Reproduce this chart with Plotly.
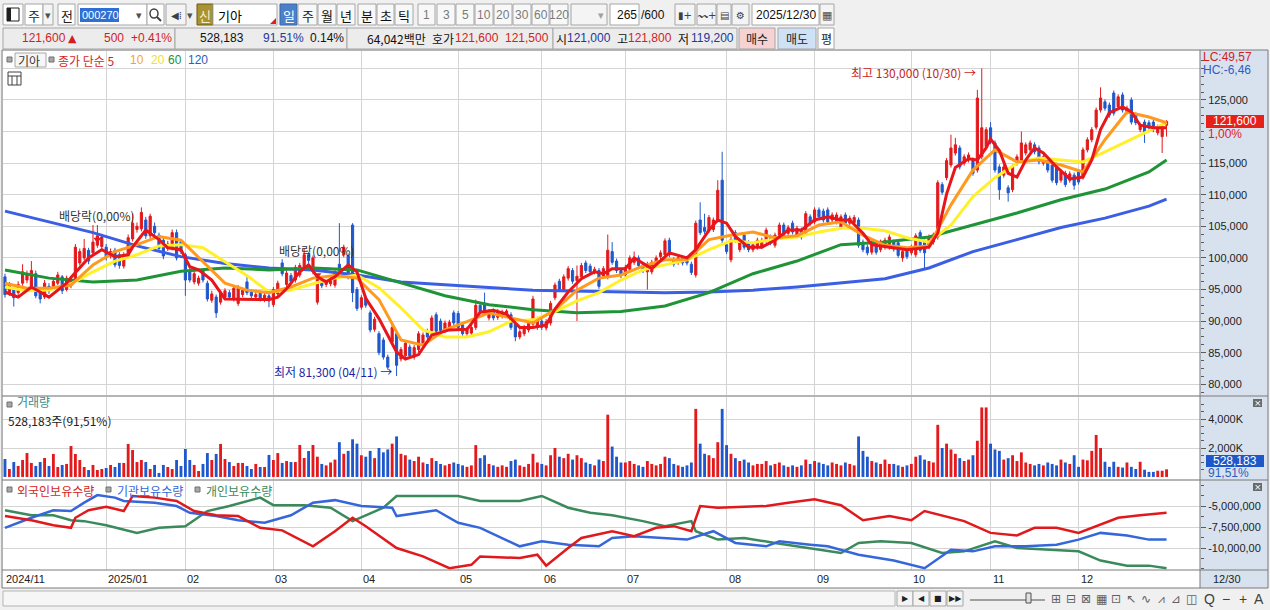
import plotly.graph_objects as go

# Kia (000270) daily chart, 265 bars: bar 0 = 2024-11-27 ... bar 264 = 2025-12-30
# prices in thousand won
open_k = [
    97.0, 94.5, 95.0, 94.5, 96.0, 96.5, 95.5, 97.5, 95.0, 93.8,
    95.5, 95.3, 96.0, 97.0, 95.0, 95.6, 96.5, 99.2, 100.0, 101.2,
    100.8, 102.0, 101.8, 101.7, 100.3, 101.2, 100.5, 98.7, 100.3, 103.0,
    104.5, 104.6, 106.0, 103.5, 105.0, 103.6, 102.8, 101.5, 101.5, 104.0,
    102.5, 100.5, 98.0, 96.2, 96.0, 98.0, 96.0, 93.3, 93.8, 93.0,
    93.8, 94.5, 93.5, 92.8, 94.2, 96.2, 94.6, 93.8, 94.4, 93.4,
    94.0, 92.6, 94.3, 99.2, 95.8, 97.2, 96.5, 97.3, 98.5, 100.5,
    97.8, 93.0, 96.2, 95.8, 95.9, 95.7, 99.0, 100.5, 100.3, 105.2,
    95.0, 92.2, 93.7, 91.3, 88.7, 88.0, 87.0, 84.3, 86.7, 88.0,
    84.0, 84.5, 85.9, 84.3, 85.5, 86.5, 88.4, 88.5, 91.0, 90.0,
    88.5, 88.8, 91.3, 91.2, 89.4, 88.0, 88.1, 89.0, 92.5, 92.8,
    90.5, 91.6, 90.6, 90.8, 90.9, 91.0, 89.6, 87.5, 88.0, 88.6,
    89.5, 89.0, 90.0, 88.9, 89.7, 93.7, 96.3, 95.0, 96.8, 98.0,
    96.4, 97.0, 99.2, 98.7, 97.8, 98.0, 97.1, 97.0, 101.0, 99.5,
    98.0, 97.3, 98.2, 99.3, 100.0, 98.9, 97.8, 97.8, 99.3, 100.2,
    100.5, 102.8, 99.7, 99.3, 100.0, 99.7, 99.0, 97.3, 106.0, 104.8,
    104.4, 104.5, 106.0, 112.3, 102.1, 99.7, 104.0, 101.3, 103.6, 102.4,
    101.3, 101.7, 101.8, 102.8, 103.3, 102.0, 103.6, 105.2, 103.9, 105.5,
    103.6, 104.4, 104.0, 106.5, 105.7, 107.6, 107.4, 107.6, 106.0, 105.7,
    104.9, 106.8, 105.5, 105.6, 106.0, 102.5, 101.7, 100.9, 102.3, 101.3,
    101.7, 101.7, 102.5, 102.4, 100.0, 101.2, 100.8, 100.5, 104.0, 102.5,
    101.8, 102.5, 103.3, 111.6, 112.7, 114.7, 116.6, 117.4, 115.0, 115.5,
    115.5, 113.9, 116.0, 117.6, 120.6, 118.2, 114.4, 113.1, 111.1, 110.8,
    115.0, 115.5, 116.6, 117.1, 117.9, 117.4, 115.0, 115.5, 114.7, 114.4,
    112.3, 113.4, 112.3, 113.1, 113.6, 112.8, 117.1, 118.7, 120.7, 123.4,
    124.7, 124.2, 126.1, 123.9, 125.8, 123.1, 125.0, 122.6, 120.3, 121.5,
    121.4, 121.5, 119.8, 119.2, 121.0,
]
high_k = [
    97.5, 96.2, 95.4, 96.3, 99.0, 98.0, 99.5, 98.0, 95.3, 96.5,
    96.0, 96.8, 97.8, 97.3, 97.2, 96.8, 102.2, 101.5, 103.0, 101.6,
    105.2, 105.2, 103.8, 102.2, 101.5, 101.6, 100.9, 100.9, 103.7, 107.0,
    105.6, 108.0, 106.5, 107.0, 105.6, 104.0, 103.2, 102.7, 104.5, 104.5,
    103.0, 100.8, 98.4, 98.0, 97.2, 98.4, 96.4, 94.8, 94.2, 94.9,
    95.2, 94.9, 95.6, 95.7, 95.3, 97.0, 95.0, 94.6, 94.8, 94.5,
    94.3, 95.4, 96.4, 99.8, 98.0, 97.6, 98.9, 99.2, 101.5, 100.9,
    100.4, 97.0, 96.6, 96.7, 97.1, 98.1, 105.5, 102.1, 100.7, 105.5,
    95.4, 94.1, 94.1, 91.7, 90.7, 88.4, 87.4, 84.7, 89.4, 88.4,
    85.9, 86.9, 86.3, 86.2, 88.4, 88.2, 88.8, 90.9, 91.4, 90.4,
    90.1, 90.2, 91.7, 91.6, 89.8, 89.1, 89.4, 93.4, 92.9, 94.5,
    91.9, 92.0, 91.9, 91.8, 91.9, 91.4, 90.0, 88.7, 89.4, 90.0,
    94.0, 90.7, 90.4, 90.3, 93.2, 96.1, 96.7, 97.4, 98.7, 98.4,
    98.8, 99.2, 99.6, 99.1, 98.6, 98.4, 98.7, 103.7, 102.5, 99.9,
    98.4, 98.9, 100.4, 101.0, 100.4, 99.3, 99.4, 99.7, 100.4, 101.2,
    103.1, 103.2, 100.1, 100.4, 100.4, 100.1, 99.4, 105.9, 108.8, 107.0,
    106.8, 106.4, 112.3, 116.8, 102.5, 103.3, 104.4, 102.8, 104.0, 102.8,
    102.5, 103.2, 103.2, 104.8, 103.7, 104.0, 105.6, 105.6, 105.2, 105.9,
    105.1, 104.8, 107.4, 106.9, 108.0, 108.0, 107.8, 108.0, 107.2, 107.2,
    106.9, 107.2, 106.7, 106.8, 106.4, 102.9, 102.1, 102.8, 102.7, 102.9,
    103.2, 103.7, 102.9, 102.8, 101.4, 101.6, 102.1, 103.9, 104.4, 102.9,
    103.7, 104.0, 112.3, 112.0, 115.8, 119.5, 119.0, 117.8, 116.4, 116.7,
    115.9, 126.6, 130.0, 120.7, 121.5, 118.6, 114.8, 114.8, 111.5, 114.8,
    116.4, 120.0, 118.3, 118.6, 118.3, 117.8, 116.4, 115.9, 115.1, 114.8,
    114.0, 113.8, 113.7, 113.5, 114.0, 117.5, 119.1, 120.7, 123.8, 127.0,
    125.1, 124.6, 126.5, 125.9, 126.2, 124.1, 125.4, 123.0, 121.4, 121.9,
    121.8, 121.9, 121.1, 121.1, 121.8,
]
low_k = [
    93.7, 94.0, 92.3, 94.0, 95.6, 96.0, 95.2, 93.6, 92.8, 93.5,
    94.3, 95.0, 95.7, 94.3, 94.7, 95.2, 96.2, 98.8, 99.6, 99.0,
    100.5, 101.6, 101.4, 99.6, 99.9, 98.5, 98.3, 98.3, 100.0, 102.6,
    104.0, 104.2, 103.0, 103.1, 103.6, 101.0, 99.8, 101.1, 101.2, 99.6,
    100.6, 94.0, 96.1, 95.8, 95.6, 96.1, 93.1, 92.9, 90.5, 92.6,
    93.4, 93.4, 93.1, 92.4, 93.8, 94.1, 93.6, 93.4, 93.1, 93.0,
    92.2, 92.2, 93.9, 97.1, 95.4, 95.9, 96.1, 96.9, 98.1, 99.2,
    97.4, 92.6, 95.2, 95.4, 95.5, 95.3, 97.5, 100.1, 96.6, 93.0,
    91.6, 91.8, 92.1, 88.2, 88.3, 84.6, 83.9, 82.3, 86.3, 81.3,
    83.6, 84.1, 84.1, 83.9, 85.1, 86.1, 87.1, 88.1, 88.0, 88.1,
    88.1, 88.4, 89.3, 88.6, 87.6, 87.6, 87.7, 88.6, 91.1, 91.0,
    90.1, 90.1, 90.2, 90.4, 90.5, 88.6, 86.8, 87.1, 87.6, 88.2,
    89.1, 88.6, 88.6, 88.5, 89.3, 93.3, 94.6, 94.6, 96.4, 95.9,
    90.0, 96.6, 97.6, 97.4, 97.4, 95.1, 96.7, 96.6, 98.9, 97.6,
    96.8, 96.9, 97.8, 98.9, 98.4, 97.6, 95.0, 97.4, 98.9, 99.8,
    100.1, 100.1, 98.6, 98.9, 98.8, 98.8, 97.3, 96.9, 103.6, 103.8,
    104.0, 104.1, 105.6, 102.0, 100.6, 99.3, 102.4, 100.9, 101.3, 100.9,
    100.9, 101.3, 101.4, 102.4, 102.0, 101.6, 103.2, 103.2, 103.5, 103.7,
    103.2, 102.9, 103.6, 105.1, 105.3, 106.1, 105.6, 105.3, 105.6, 105.3,
    104.5, 105.1, 105.1, 105.2, 101.6, 100.9, 100.4, 100.5, 100.5, 100.9,
    101.3, 101.3, 101.0, 100.0, 99.4, 99.8, 100.4, 100.1, 100.8, 98.4,
    101.4, 102.1, 102.9, 110.0, 112.3, 114.3, 116.2, 114.0, 114.6, 115.1,
    113.0, 113.5, 115.6, 117.2, 118.0, 113.5, 109.2, 112.7, 108.9, 110.4,
    114.6, 115.1, 116.2, 116.7, 116.4, 114.8, 114.6, 113.5, 111.9, 111.5,
    111.9, 111.2, 111.9, 110.8, 111.6, 112.4, 116.7, 118.3, 120.3, 123.0,
    123.3, 122.2, 122.5, 123.5, 123.0, 122.7, 121.1, 121.0, 119.9, 118.2,
    120.2, 119.9, 119.4, 116.6, 119.2,
]
close_k = [
    94.2, 95.7, 93.7, 95.8, 97.8, 97.5, 98.0, 94.0, 93.5, 96.0,
    94.8, 96.3, 97.3, 94.8, 96.8, 96.3, 101.7, 101.0, 101.5, 99.5,
    102.5, 103.5, 103.3, 100.0, 101.0, 98.9, 98.8, 100.5, 103.2, 105.5,
    105.0, 107.2, 103.5, 106.6, 104.0, 101.5, 100.3, 102.2, 104.0, 100.0,
    101.0, 96.5, 96.5, 97.5, 96.8, 96.5, 93.5, 94.3, 91.3, 94.5,
    94.8, 93.8, 95.2, 95.3, 94.9, 94.5, 94.0, 94.2, 93.5, 94.1,
    93.2, 95.0, 96.0, 97.5, 97.6, 96.3, 98.5, 98.8, 100.5, 99.6,
    100.0, 96.6, 95.6, 96.3, 96.7, 97.7, 98.0, 101.7, 97.0, 94.5,
    92.0, 93.7, 92.5, 88.6, 90.3, 85.0, 84.3, 82.7, 89.0, 83.0,
    85.5, 86.5, 84.5, 85.8, 88.0, 87.8, 87.5, 90.5, 88.4, 88.5,
    89.7, 89.8, 89.7, 89.0, 88.0, 88.7, 89.0, 92.5, 91.5, 91.4,
    91.5, 90.5, 91.5, 91.4, 91.6, 89.0, 87.5, 88.3, 89.0, 89.6,
    93.5, 90.3, 89.0, 89.9, 92.8, 95.7, 95.0, 97.0, 98.3, 96.3,
    97.1, 98.8, 98.0, 97.8, 98.2, 95.5, 98.3, 101.2, 99.3, 98.0,
    97.2, 98.5, 100.0, 99.8, 98.8, 98.0, 99.0, 99.3, 100.0, 100.8,
    102.7, 100.5, 99.0, 100.0, 99.2, 99.2, 97.7, 105.5, 104.0, 104.2,
    106.4, 106.0, 110.7, 102.8, 101.0, 102.9, 102.8, 102.4, 101.7, 101.3,
    102.1, 102.8, 102.8, 104.4, 102.4, 103.6, 105.2, 103.6, 104.8, 104.1,
    104.7, 103.3, 107.0, 105.5, 107.6, 106.5, 106.0, 105.7, 106.8, 106.8,
    106.5, 105.5, 106.3, 106.4, 102.0, 101.3, 100.8, 102.4, 100.9, 102.5,
    102.8, 103.3, 101.4, 100.4, 101.0, 100.2, 101.7, 103.5, 101.2, 100.8,
    103.3, 103.6, 111.9, 110.4, 115.4, 117.4, 117.9, 114.4, 116.0, 116.3,
    113.4, 125.3, 120.6, 120.3, 118.4, 113.9, 110.8, 114.4, 110.3, 114.4,
    116.0, 118.2, 117.9, 118.2, 116.8, 115.2, 116.0, 113.9, 112.3, 111.9,
    113.6, 111.6, 113.3, 111.5, 112.0, 117.1, 118.7, 120.3, 123.4, 125.3,
    123.7, 122.6, 122.9, 125.5, 123.4, 123.7, 121.5, 121.4, 121.0, 119.8,
    120.6, 120.3, 120.7, 120.7, 121.6,
]
# volume in thousand shares
volume_k = [
    1240, 550, 1030, 760, 1170, 1650, 970, 760, 1030, 1310,
    760, 1590, 690, 830, 900, 2140, 1590, 1170, 690, 480,
    830, 480, 550, 620, 830, 690, 970, 970, 2280, 1860,
    1030, 1170, 1030, 550, 830, 280, 830, 690, 550, 1170,
    760, 1930, 1170, 830, 410, 900, 1650, 1170, 1590, 2280,
    1240, 1030, 760, 970, 970, 760, 550, 900, 690, 690,
    1520, 1170, 1650, 970, 1100, 1030, 1030, 2210, 1310, 1790,
    2210, 1400, 900, 800, 1000, 1200, 2400, 1600, 1800, 2600,
    2300, 1500, 1400, 1800, 1300, 2000, 1700, 1900, 2300, 2800,
    1600, 1500, 1200, 1100, 1400, 1000, 900, 1300, 1100, 900,
    800, 900, 1000, 900, 800, 700, 800, 2200, 1300, 1500,
    900, 800, 700, 800, 700, 1100, 1200, 800, 700, 900,
    1600, 1000, 900, 800, 1500, 2000, 1400, 1300, 1600, 1200,
    1500, 1300, 1000, 900, 800, 1200, 1100, 4300, 2100, 1400,
    1000, 1000, 1100, 900, 800, 700, 1100, 900, 800, 900,
    1400, 1300, 900, 800, 700, 800, 1000, 4700, 2300, 1600,
    1500, 1300, 2400, 4700, 2200, 1600, 1300, 1100, 1200, 1000,
    800, 900, 900, 1100, 800, 900, 1000, 800, 700, 800,
    700, 800, 1200, 900, 1100, 1000, 900, 800, 1000, 900,
    800, 1000, 900, 800, 2800, 1800, 1400, 1100, 1000, 900,
    1200, 900, 900, 800, 700, 800, 900, 1400, 1500, 1200,
    1100, 1000, 3600, 2000, 2300, 1900, 1600, 1300, 1100, 1200,
    1500, 2500, 4800, 4800, 2300, 1900, 1800, 1200, 1300, 1500,
    1100, 1700, 1000, 900, 800, 900, 800, 1000, 900, 800,
    1200, 1000, 900, 1500, 700, 1200, 1150, 1800, 2900, 2000,
    1050, 700, 1050, 700, 650, 1000, 700, 550, 1050, 500,
    350, 350, 430, 430, 528,
]

# moving averages (bar index, thousand won)
ma_long_idx = [0, 10, 20, 30, 40, 50, 60, 70, 80, 90, 100, 110, 120, 130,
               140, 150, 160, 170, 180, 190, 200, 210, 220, 230, 240, 250, 260, 264]
ma120_val = [107.4, 105.7, 104.0, 101.9, 100.2, 99.1, 98.4, 98.1, 97.3, 96.2,
             95.7, 95.3, 94.9, 94.8, 94.6, 94.5, 94.6, 94.9, 95.4, 96.0,
             96.7, 98.4, 101.0, 102.9, 104.8, 106.3, 108.2, 109.3]
ma60_val = [98.1, 96.8, 96.2, 96.5, 97.9, 98.4, 98.1, 98.4, 98.1, 96.0,
            94.0, 92.6, 91.8, 91.3, 91.5, 92.4, 94.5, 97.5, 99.5, 102.1,
            102.5, 103.3, 105.2, 107.1, 109.2, 110.9, 113.6, 115.5]
ma_mid_idx = list(range(0, 261, 5)) + [264]
ma20_val = [95.4, 94.8, 94.9, 95.9, 97.8, 99.5, 100.5, 101.9, 102.1, 101.6,
            99.4, 97.2, 94.6, 94.9, 95.9, 96.8, 97.3, 95.3, 92.1, 88.6,
            87.5, 87.5, 88.3, 90.0, 90.2, 91.5, 93.2, 94.5, 96.5, 98.1,
            98.9, 99.7, 101.3, 102.7, 102.4, 103.0, 103.3, 104.1, 104.7, 104.7,
            104.3, 103.2, 102.5, 105.2, 109.7, 112.7, 115.0, 115.8, 115.5, 115.2,
            116.8, 118.5, 120.1, 121.4]
ma10_val = [96.0, 95.2, 95.2, 95.7, 98.9, 101.0, 102.1, 103.4, 102.8, 99.4,
            96.0, 94.9, 94.5, 95.4, 96.8, 97.2, 96.8, 93.4, 87.0, 86.2,
            88.6, 89.9, 91.3, 90.5, 89.7, 91.8, 94.9, 96.8, 97.3, 98.7,
            99.7, 99.7, 102.9, 103.6, 104.1, 103.2, 103.5, 105.2, 105.7, 103.6,
            102.0, 101.6, 101.9, 108.4, 113.9, 117.1, 115.2, 115.5, 114.7, 113.6,
            118.7, 123.1, 122.3, 121.4]
ma5_idx = [0, 3, 6, 10, 14, 15, 19, 22, 25, 28, 29, 32, 35, 37, 40, 42, 44, 47, 50,
           54, 60, 62, 64, 67, 69, 71, 73, 75, 78, 80, 82, 85, 87, 89, 91, 94, 97,
           101, 105, 108, 111, 114, 117, 120, 123, 125, 128, 131, 134, 136, 138,
           141, 143, 147, 151, 155, 157, 160, 162, 164, 166, 169, 172, 175, 178,
           181, 184, 187, 190, 192, 195, 197, 201, 205, 210, 212, 214, 216, 219,
           221, 223, 224, 226, 228, 230, 232, 234, 236, 239, 242, 245, 247, 249,
           251, 254, 256, 258, 261, 264]
ma5_val = [94.6, 93.8, 95.4, 93.8, 96.0, 96.9, 100.0, 101.3, 100.2, 100.5, 101.7,
           104.4, 102.9, 101.6, 101.3, 98.6, 98.1, 96.5, 93.5, 93.5, 93.4, 93.8,
           95.1, 97.8, 98.9, 97.0, 96.2, 97.0, 98.9, 97.8, 93.6, 90.4, 87.8, 85.1,
           84.0, 84.7, 87.8, 88.6, 88.7, 91.4, 91.7, 91.1, 89.0, 89.0, 89.4, 91.9,
           94.6, 96.7, 97.8, 97.5, 98.3, 98.3, 100.0, 98.3, 100.8, 100.0, 101.3,
           104.4, 106.0, 105.5, 103.4, 101.7, 101.7, 102.8, 104.4, 104.4, 106.0,
           106.5, 106.0, 106.0, 103.9, 102.1, 101.7, 101.3, 101.7, 103.9, 110.1,
           114.3, 115.7, 115.5, 117.4, 118.8, 117.0, 113.4, 112.8, 115.5, 117.4,
           116.6, 114.4, 112.5, 112.8, 115.5, 120.3, 123.0, 123.9, 123.1, 121.0,
           120.6, 120.6]

# holdings (million shares)
forn_idx = [0, 6, 11, 15, 16, 19, 23, 27, 29, 34, 39, 43, 48, 53, 58, 63, 70, 75, 79,
            82, 89, 95, 101, 106, 108, 117, 121, 123, 128, 131, 138, 143, 148, 152,
            156, 158, 162, 173, 178, 184, 190, 195, 201, 206, 209, 215, 218, 224,
            230, 234, 239, 244, 248, 253, 258, 264]
forn_val = [-6.2, -6.7, -7.3, -7.6, -6.4, -5.5, -5.1, -5.6, -3.8, -4.0, -4.4, -5.6,
            -6.1, -6.2, -7.6, -7.9, -9.8, -8.0, -6.4, -7.4, -10.0, -11.0, -12.4,
            -12.0, -11.0, -11.2, -10.8, -12.1, -10.0, -8.8, -8.0, -8.6, -7.6, -7.4,
            -8.0, -5.0, -5.2, -5.0, -4.6, -4.2, -4.9, -6.7, -6.2, -6.7, -5.6, -6.4,
            -6.8, -8.2, -8.5, -7.6, -7.6, -8.2, -7.4, -6.4, -6.1, -5.8]
inst_idx = [0, 6, 11, 15, 18, 21, 25, 27, 34, 39, 42, 48, 53, 59, 65, 70, 75, 81, 88,
            89, 98, 103, 108, 117, 122, 128, 135, 138, 143, 150, 155, 161, 166, 173,
            176, 183, 187, 194, 202, 209, 215, 220, 225, 232, 239, 244, 249, 255,
            260, 264]
inst_val = [-7.6, -6.4, -5.5, -5.6, -4.6, -3.7, -4.0, -4.4, -4.6, -5.0, -5.8, -6.2,
            -6.7, -7.0, -6.1, -4.6, -4.3, -5.0, -5.2, -6.2, -5.5, -7.0, -7.6, -9.8,
            -9.2, -9.6, -9.8, -8.8, -8.6, -8.8, -9.0, -8.0, -9.4, -9.8, -9.2, -9.6,
            -9.8, -10.8, -11.5, -12.4, -10.2, -10.4, -9.8, -9.8, -9.6, -9.0, -8.2,
            -8.5, -9.0, -9.0]
indv_idx = [0, 6, 11, 15, 18, 23, 30, 35, 41, 46, 51, 58, 61, 68, 74, 79, 86, 89, 96,
            103, 108, 117, 122, 128, 133, 138, 145, 150, 156, 157, 162, 168, 175,
            183, 190, 194, 199, 206, 213, 218, 225, 230, 239, 244, 249, 255, 260, 264]
indv_val = [-5.5, -6.1, -6.1, -6.7, -6.8, -7.3, -8.2, -7.6, -7.4, -5.6, -5.0, -4.0,
            -4.9, -4.9, -5.2, -6.8, -5.2, -3.8, -3.8, -3.8, -4.4, -4.4, -3.8, -5.2,
            -5.8, -6.1, -6.8, -7.4, -6.8, -8.0, -9.0, -8.8, -9.4, -10.0, -10.6, -9.4,
            -9.2, -9.4, -10.6, -10.4, -9.2, -10.0, -10.2, -10.4, -11.5, -12.1,
            -12.1, -12.4]

# ex-dividend marks (bar index, thousand won)
exdiv_idx = [21, 71]
exdiv_val = [102.9, 97.3]

month_idx = [0, 23, 41, 61, 81, 103, 122, 141, 164, 184, 206, 224, 244]
month_lbl = ["2024/11", "2025/01", "02", "03", "04", "05", "06", "07", "08",
             "09", "10", "11", "12"]

n = len(close_k)
assert n == 265 and len(open_k) == len(high_k) == len(low_k) == len(volume_k) == n

W, H = 1270, 610
KF = "Noto Sans CJK KR"
NF = "Liberation Sans"
RED = "#E3191C"
BLUE = "#1F58CC"
GRID = "#D4D4D4"


def X(p):
    return p / W


def Y(p):
    return 1 - p / H


bars = list(range(n))
k = lambda a: [v * 1000 for v in a]

fig = go.Figure()

# 1st panel: candles + moving averages
fig.add_trace(go.Candlestick(
    x=bars, open=k(open_k), high=k(high_k), low=k(low_k), close=k(close_k),
    increasing=dict(line=dict(color=RED, width=1), fillcolor=RED),
    decreasing=dict(line=dict(color=BLUE, width=1), fillcolor=BLUE),
    whiskerwidth=0, showlegend=False, hoverinfo="skip", xaxis="x", yaxis="y"))

for xs, ys, col in [(ma_long_idx, ma120_val, "#3A5EE4"),
                    (ma_long_idx, ma60_val, "#1E9436"),
                    (ma_mid_idx, ma20_val, "#FFF02A"),
                    (ma_mid_idx, ma10_val, "#FF9A1E"),
                    (ma5_idx, ma5_val, "#E8161A")]:
    fig.add_trace(go.Scatter(x=xs, y=k(ys), mode="lines", line=dict(color=col, width=3),
                             showlegend=False, hoverinfo="skip", xaxis="x", yaxis="y"))

fig.add_trace(go.Scatter(x=exdiv_idx, y=k(exdiv_val), mode="markers",
                         marker=dict(symbol="triangle-down", size=7, color=RED),
                         showlegend=False, hoverinfo="skip", xaxis="x", yaxis="y"))

# 2nd panel: volume
vol_colors = [RED if c >= o else BLUE for o, c in zip(open_k, close_k)]
fig.add_trace(go.Bar(x=bars, y=volume_k, marker=dict(color=vol_colors, line=dict(width=0)),
                     showlegend=False, hoverinfo="skip", xaxis="x2", yaxis="y2"))

# 3rd panel: holdings
for xs, ys, col in [(indv_idx, indv_val, "#3A8A5C"),
                    (inst_idx, inst_val, "#3566DA"),
                    (forn_idx, forn_val, "#E0191C")]:
    fig.add_trace(go.Scatter(x=xs, y=[v * 1e6 for v in ys], mode="lines",
                             line=dict(color=col, width=2.5), showlegend=False,
                             hoverinfo="skip", xaxis="x3", yaxis="y3"))

xcommon = dict(range=[-0.45, 271.6], domain=[X(3), X(1200)], tickmode="array",
               tickvals=month_idx[1:], showticklabels=False, showgrid=True,
               gridcolor=GRID, gridwidth=1, zeroline=False, showline=False,
               ticks="", fixedrange=True, automargin=False)
ycommon = dict(side="right", showgrid=True, gridcolor=GRID, gridwidth=1, zeroline=False,
               showline=False, ticks="outside", ticklen=5, tickcolor="#5A5A5A",
               tickfont=dict(family=NF, size=11, color="#222222"), fixedrange=True,
               automargin=False, tickmode="array")

# labels at 120,000 and 130,000 are hidden behind the price box / LC-HC text
price_ticks = list(range(80000, 130001, 5000))
price_text = ["" if v in (120000, 130000) else f"{v:,}" for v in price_ticks]

fig.update_layout(
    template="none",
    width=W, height=H,
    margin=dict(l=0, r=0, t=0, b=0),
    paper_bgcolor="#F0F0F0", plot_bgcolor="#FFFFFF",
    font=dict(family=KF, size=12, color="#222222"),
    showlegend=False, bargap=0.35,
    xaxis=dict(xcommon, anchor="y", rangeslider=dict(visible=False)),
    xaxis2=dict(xcommon, anchor="y2"),
    xaxis3=dict(xcommon, anchor="y3"),
    yaxis=dict(ycommon, anchor="x", domain=[Y(395), Y(51)], range=[78300, 132750],
               tickvals=price_ticks, ticktext=price_text,
               minor=dict(tickmode="array", tickvals=list(range(78750, 132500, 1250)),
                          ticklen=3, tickcolor="#5A5A5A", showgrid=False)),
    yaxis2=dict(ycommon, anchor="x2", domain=[Y(479), Y(397)], range=[-140, 5520],
                tickvals=[2000, 4000], ticktext=["2,000K", "4,000K"],
                minor=dict(tickmode="array", tickvals=list(range(500, 5500, 500)),
                           ticklen=3, tickcolor="#5A5A5A", showgrid=False)),
    yaxis3=dict(ycommon, anchor="x3", domain=[Y(570), Y(481)], range=[-12.62e6, -2.02e6],
                tickvals=[-5e6, -7.5e6, -10e6], ticktext=["-5,000,000", "-7,500,000", "-10,000,00"],
                minor=dict(tickmode="array", tickvals=[-2.5e6, -3.75e6, -6.25e6, -8.75e6, -11.25e6, -12.5e6],
                           ticklen=3, tickcolor="#5A5A5A", showgrid=False)),
)

shapes = []
annos = []


def rect(x0, y0, x1, y1, fill, line="#A6A6A6", layer="above", lw=1):
    shapes.append(dict(type="rect", xref="paper", yref="paper", x0=X(x0), x1=X(x1),
                       y0=Y(y1), y1=Y(y0), fillcolor=fill,
                       line=dict(color=line, width=lw if line else 0), layer=layer))


def seg(x0, y0, x1, y1, color="#7A7A7A", w=1, layer="above"):
    shapes.append(dict(type="line", xref="paper", yref="paper", x0=X(x0), x1=X(x1),
                       y0=Y(y0), y1=Y(y1), line=dict(color=color, width=w), layer=layer))


def txt(x, y, s, color="#222222", size=12, anchor="left", family=KF, yanchor="middle"):
    annos.append(dict(xref="paper", yref="paper", x=X(x), y=Y(y), text=s, showarrow=False,
                      xanchor=anchor, yanchor=yanchor, borderpad=0,
                      font=dict(family=family, size=size, color=color)))


# chart frame backgrounds
rect(1200, 50, 1268, 588, "#D8E2EE", line=None, layer="below")
rect(3, 570, 1200, 588, "#FFFFFF", line=None, layer="below")
for yy in (50, 396, 480, 570, 588):
    seg(2, yy, 1268, yy)
seg(1200, 50, 1200, 588)
seg(2, 50, 2, 588)
seg(1268, 50, 1268, 588)

# ---- toolbar row 1
rect(3, 4, 23, 25, "#FFFFFF")
rect(7, 8, 19, 21, "#FFFFFF", line="#202020")
rect(7, 8, 11, 21, "#202020", line=None)
rect(25, 4, 43, 25, "#FFFFFF"); txt(34, 15, "주", anchor="center", size=13)
rect(43, 4, 53, 25, "#F4F4F4"); txt(48, 15, "▾", "#505050", 11, "center", "DejaVu Sans")
rect(58, 4, 75, 25, "#FFFFFF"); txt(66.5, 15, "전", anchor="center", size=13)
rect(78, 4, 147, 25, "#FFFFFF")
rect(80, 8, 119, 22, "#2F6FD4", line=None)
txt(81, 15, "000270", "#FFFFFF", 11, family=NF)
txt(139, 15, "▾", "#505050", 11, "center", "DejaVu Sans")
rect(147, 4, 164, 25, "#FFFFFF")
shapes.append(dict(type="circle", xref="paper", yref="paper", x0=X(150), x1=X(158), y0=Y(18),
                   y1=Y(9), line=dict(color="#404040", width=1.5)))
seg(157, 17, 161, 21, "#404040", 2)
rect(166, 4, 186, 25, "#F4F4F4"); txt(176, 15, "◀⁞", "#404040", 10, "center", "DejaVu Sans")
txt(190, 15, "▾", "#505050", 11, "center", "DejaVu Sans")
rect(197, 4, 213, 25, "#A89232", line="#6A5A10"); txt(205, 15, "신", "#F6F2C8", 13, "center")
rect(213, 4, 277, 25, "#FFFFFF"); txt(217, 15, "기아", "#000000", 13)
shapes.append(dict(type="path", xref="paper", yref="paper",
                   path=f"M {X(270)},{Y(24)} L {X(276)},{Y(24)} L {X(276)},{Y(18)} Z",
                   fillcolor="#E02020", line=dict(width=0)))
rect(280, 4, 297, 25, "#4C80C8", line="#3A66A8"); txt(288.5, 15, "일", "#FFFFFF", 13, "center")
for x0, x1, s in [(298, 317, "주"), (318, 336, "월"), (337, 355, "년"), (358, 376, "분"),
                  (377, 394, "초"), (395, 413, "틱")]:
    rect(x0, 4, x1, 25, "#F8F8F8"); txt((x0 + x1) / 2, 15, s, "#111111", 13, "center")
for x0, x1, s in [(418, 435, "1"), (437, 455, "3"), (456, 474, "5"), (475, 493, "10"),
                  (494, 512, "20"), (513, 531, "30"), (532, 549, "60"), (550, 568, "120")]:
    rect(x0, 4, x1, 25, "#F8F8F8"); txt((x0 + x1) / 2, 15, s, "#7A7A7A", 12, "center", NF)
rect(571, 4, 607, 25, "#F4F4F4"); txt(601, 15, "▾", "#A0A0A0", 11, "center", "DejaVu Sans")
rect(610, 4, 639, 25, "#FFFFFF"); txt(638, 15, "265", "#111111", 12, "right", NF)
txt(640, 15, "/600", "#111111", 12, "left", NF)
for x0, x1, s in [(675, 695, "▮+"), (697, 716, "〰+"), (717, 731, "▤"), (732, 749, "⚙")]:
    rect(x0, 4, x1, 25, "#F4F4F4"); txt((x0 + x1) / 2, 15, s, "#404040", 10, "center", "DejaVu Sans")
rect(752, 4, 819, 25, "#FFFFFF"); txt(755, 15, "2025/12/30", "#111111", 12, family=NF)
rect(820, 4, 834, 25, "#F4F4F4"); txt(827, 15, "▦", "#505050", 11, "center", "DejaVu Sans")

# ---- toolbar row 2
for x0, x1 in [(3, 175), (175, 347), (347, 553), (553, 737)]:
    rect(x0, 28, x1, 49, "#ECECEC")
txt(21, 38.5, "121,600", "#D21E1E", 12, family=NF)
txt(67, 38.5, "▲", "#D21E1E", 11, family="DejaVu Sans")
txt(125, 38.5, "500", "#D21E1E", 12, "right", NF)
txt(173, 38.5, "+0.41%", "#D21E1E", 12, "right", NF)
txt(245, 38.5, "528,183", "#111111", 12, "right", NF)
txt(305, 38.5, "91.51%", "#23379C", 12, "right", NF)
txt(345, 38.5, "0.14%", "#111111", 12, "right", NF)
txt(427, 38.5, "64,042백만", "#111111", 12, "right")
txt(431, 38.5, "호가", "#111111", 12)
txt(500, 38.5, "121,600", "#D21E1E", 12, "right", NF)
txt(550, 38.5, "121,500", "#D21E1E", 12, "right", NF)
txt(555, 38.5, "시", "#111111", 12)
txt(612, 38.5, "121,000", "#23379C", 12, "right", NF)
txt(616, 38.5, "고", "#111111", 12)
txt(673, 38.5, "121,800", "#D21E1E", 12, "right", NF)
txt(677, 38.5, "저", "#111111", 12)
txt(735, 38.5, "119,200", "#23379C", 12, "right", NF)
rect(739, 28, 775, 49, "#F6D2D2"); txt(757, 38.5, "매수", "#222222", 12, "center")
rect(778, 28, 816, 49, "#CFE1F6"); txt(797, 38.5, "매도", "#222222", 12, "center")
rect(818, 28, 834, 49, "#FFFFFF"); txt(826, 38.5, "평", "#222222", 12, "center")

# ---- price panel legend and labels
rect(7, 57, 12, 62, "#A8A8A8", line="#707070")
rect(15, 53, 46, 67, "#F6F6F6", line="#A8A8A8"); txt(17, 60, "기아", "#333333")
rect(49, 57, 54, 62, "#A8A8A8", line="#707070")
txt(57, 60, "종가 단순 5", "#D21E1E")
txt(129, 60, "10", "#F0A81C", family=NF)
txt(150, 60, "20", "#F0E030", family=NF)
txt(167, 60, "60", "#229032", family=NF)
txt(187, 60, "120", "#2C5CC4", family=NF)
rect(8, 72, 21, 85, "#FFFFFF", line="#404040")
seg(8, 76, 21, 76, "#404040")
seg(12, 76, 12, 85, "#404040")
seg(17, 76, 17, 85, "#404040")
txt(1202, 57, "LC:49,57", "#D21E1E", 12, family=NF)
txt(1202, 70, "HC:-6,46", "#2C5CC4", 12, family=NF)
rect(1206, 115, 1264, 128, "#E8201A", line=None)
txt(1235, 121.5, "121,600", "#FFFFFF", 12, "center", NF)
txt(1207, 134, "1,00%", "#E02020", 12, family=NF)

annos.append(dict(xref="x", yref="y", x=exdiv_idx[0], y=106650, text="배당락(0,00%)",
                  showarrow=False, xanchor="center", yanchor="middle",
                  font=dict(family=KF, size=12, color="#333333")))
annos.append(dict(xref="x", yref="y", x=exdiv_idx[1], y=101100, text="배당락(0,00%)",
                  showarrow=False, xanchor="center", yanchor="middle",
                  font=dict(family=KF, size=12, color="#333333")))
annos.append(dict(xref="x", yref="y", x=89, y=81300, text="최저 81,300 (04/11) →",
                  showarrow=False, xanchor="right", yanchor="middle", xshift=-3, yshift=5,
                  font=dict(family=KF, size=12, color="#1A1FA8")))
annos.append(dict(xref="x", yref="y", x=222, y=130000, text="최고 130,000 (10/30) →",
                  showarrow=False, xanchor="right", yanchor="middle", xshift=-4, yshift=-4,
                  font=dict(family=KF, size=12, color="#C81E1E")))

# ---- volume panel
rect(7, 402, 12, 407, "#A8A8A8", line="#707070")
txt(16, 411, "거래량", "#3A8C8C", yanchor="bottom")
txt(7, 411, "528,183주(91,51%)", "#222222", yanchor="top")
rect(1206, 455, 1264, 467, "#1E58C8", line=None)
txt(1235, 461, "528,183", "#FFFFFF", 12, "center", NF)
txt(1207, 473, "91,51%", "#2C5CC4", 12, family=NF)
for yy in (399, 483):
    rect(1253, yy, 1262, yy + 8, "#6A6A6A", line=None)
    txt(1257.5, yy + 4, "×", "#FFFFFF", 9, "center", "DejaVu Sans")

# ---- holdings panel legend
rect(7, 487, 12, 492, "#A8A8A8", line="#707070")
txt(16, 490, "외국인보유수량", "#D21E1E")
rect(106, 487, 111, 492, "#A8A8A8", line="#707070")
txt(116, 490, "기관보유수량", "#3566DA")
rect(195, 487, 200, 492, "#A8A8A8", line="#707070")
txt(205, 490, "개인보유수량", "#3A8A5C")

# ---- date strip
for i, lbl in zip(month_idx, month_lbl):
    annos.append(dict(xref="x3", yref="paper", x=i, y=Y(579), text=lbl, showarrow=False,
                      xanchor="left", yanchor="middle", xshift=0 if i else -1,
                      font=dict(family=NF, size=11, color="#222222")))
txt(1212, 579, "12/30", "#222222", 11, family=NF)

# ---- bottom toolbar
rect(3, 591, 895, 606, "#F6F6F6", line="#B4B4B4")
for x0, s in [(897, "▶"), (913, "◀"), (930, "■"), (947, "▶▶")]:
    rect(x0, 591, x0 + 16, 606, "#F4F4F4")
    txt(x0 + 8, 598.5, s, "#202020", 8, "center", "DejaVu Sans")
seg(970, 600, 1045, 600, "#505050")
rect(1026, 593, 1031, 603, "#E0E0E0", line="#505050")
for j, s in enumerate(["⊞", "⊟", "⊠", "▦", "⊡", "↖", "∿", "⩘", "⊿", "◫"]):
    txt(1056 + j * 15, 598.5, s, "#606060", 12, "center", "DejaVu Sans")
for x0, s in [(1209, "Q"), (1226, "−"), (1243, "+"), (1259, "A")]:
    txt(x0, 598.5, s, "#404040", 14, "center", NF)

fig.update_layout(shapes=shapes, annotations=annos)

fig.write_html("out.html", config={"displayModeBar": False},
               post_script="document.body.style.margin='0';document.body.style.overflow='hidden';")
